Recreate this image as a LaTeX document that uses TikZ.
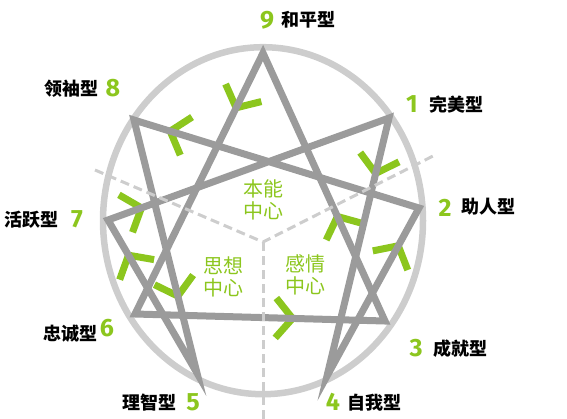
\documentclass[tikz,border=0pt]{standalone}
\usepackage{fontspec}
\newfontfamily\cjk{Noto Sans CJK SC}
\newfontfamily\numfont{Fira Sans}
\usetikzlibrary{calc}
\definecolor{egreen}{RGB}{140,198,30}
\definecolor{egray}{RGB}{155,155,155}
\definecolor{elight}{RGB}{205,205,205}
\tikzset{
  ring/.style={draw=elight, line width=6.5pt},
  edge/.style={draw=egray, line width=7pt, line join=miter},
  divider/.style={draw=elight, line width=3pt, dash pattern=on 9pt off 5pt},
  chev/.style={draw=egreen, line width=7pt, line join=miter},
  typelabel/.style={font=\cjk\bfseries\fontsize{18}{20}\selectfont, text=black, inner sep=0pt},
  numlabel/.style={font=\numfont\bfseries\fontsize{25}{27}\selectfont, text=egreen, inner sep=0pt},
  centerlabel/.style={font=\cjk\fontsize{20}{21.5}\selectfont, text=egreen, align=center, inner sep=0pt}
}
\begin{document}
\begin{tikzpicture}[x=1pt,y=-1pt]
\useasboundingbox (0,0) rectangle (567,418);
% circle
\coordinate (ringc) at (263,220.7);
\draw[ring] (ringc) ellipse [x radius=160, y radius=173.5];
% points
\coordinate (n9) at (263,53);
\coordinate (n1) at (389,118);
\coordinate (n2) at (419,208);
\coordinate (n3) at (385,321);
\coordinate (n4) at (327,376);
\coordinate (n5) at (197,373);
\coordinate (n6) at (135,314);
\coordinate (n7) at (108,220);
\coordinate (n8) at (134,120);
% chevrons (arrow tips on the edges)
\newcommand{\chevron}[4]{%
  \coordinate (#4) at ($(#1)!#3!(#2)$);
  \draw[chev] ($(#4)!26pt!50:(#1)$) -- (#4) -- ($(#4)!26pt!-50:(#1)$);}
\chevron{n9}{n6}{0.21}{c1}
\chevron{n2}{n8}{0.873}{c2}
\chevron{n1}{n4}{0.215}{c3}
\chevron{n3}{n9}{0.39}{c4}
\chevron{n4}{n2}{0.775}{c5}
\chevron{n6}{n3}{0.63}{c6}
\chevron{n8}{n5}{0.696}{c7}
\chevron{n5}{n7}{0.77}{c8}
\chevron{n7}{n1}{0.119}{c9}
% edges
\draw[edge] (n9) -- (n3) -- (n6) -- cycle;
\draw[edge] (n1) -- (n4) -- (n2) -- (n8) -- (n5) -- (n7) -- cycle;
% dividers
\coordinate (mid) at (263,242);
\coordinate (dl) at (95,170);
\coordinate (dr) at (437,154);
\coordinate (db) at (263,420);
\draw[divider] (dl) -- (mid) -- (dr);
\draw[divider] (mid) -- (db);
% center labels
\node[centerlabel] (gut) at (263,200) {本能\\中心};
\node[centerlabel] (head) at (223,277) {思想\\中心};
\node[centerlabel] (heart) at (305,275) {感情\\中心};
% type labels
\node[numlabel] (l9) at (267,20) {9};
\node[typelabel] (t9) at (308.5,20) {和平型};
\node[numlabel] (l1) at (412,104) {1};
\node[typelabel] (t1) at (456,105) {完美型};
\node[numlabel] (l2) at (445,208) {2};
\node[typelabel] (t2) at (488,207) {助人型};
\node[numlabel] (l3) at (416,348) {3};
\node[typelabel] (t3) at (460,349) {成就型};
\node[numlabel] (l4) at (333,402) {4};
\node[typelabel] (t4) at (374,403) {自我型};
\node[numlabel] (l5) at (193,402) {5};
\node[typelabel] (t5) at (149,403) {理智型};
\node[numlabel] (l6) at (107,328) {6};
\node[typelabel] (t6) at (70,334) {忠诚型};
\node[numlabel] (l7) at (77,219) {7};
\node[typelabel] (t7) at (32,220) {活跃型};
\node[numlabel] (l8) at (113,88) {8};
\node[typelabel] (t8) at (71,89) {领袖型};
\end{tikzpicture}
\end{document}
